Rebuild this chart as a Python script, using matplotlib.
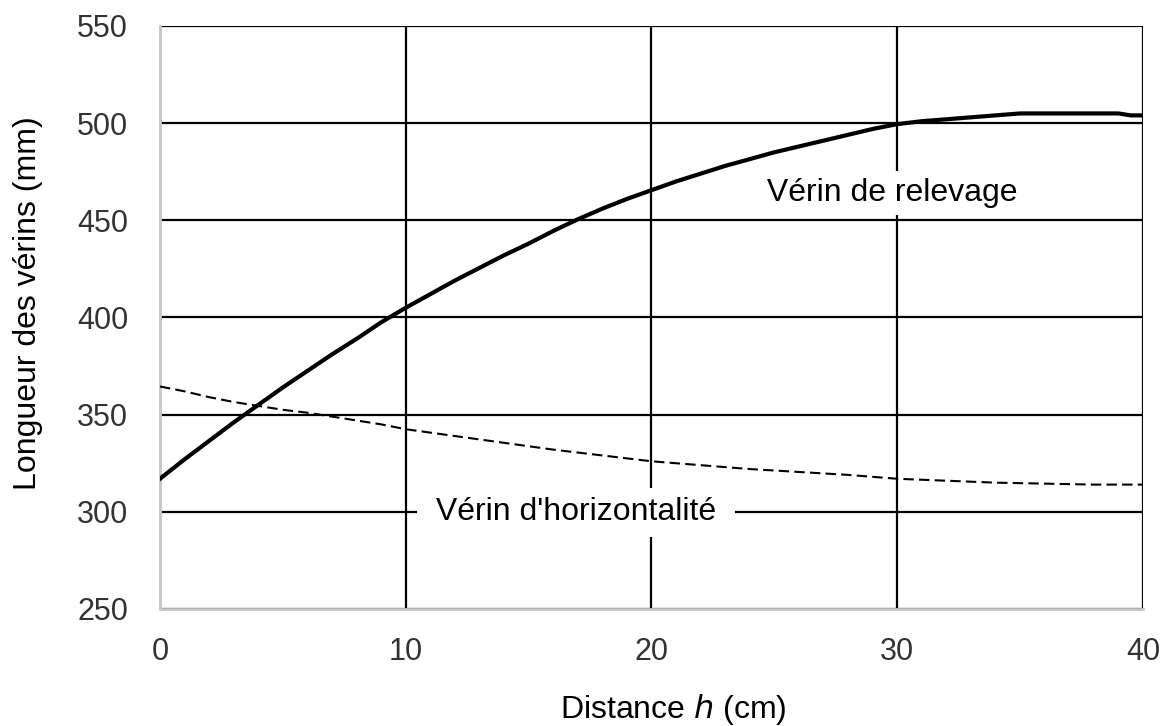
import matplotlib
matplotlib.use("Agg")
import matplotlib.pyplot as plt

plt.rcParams['font.family'] = ['Liberation Sans', 'DejaVu Sans']

# Data
h_releve = [0, 1, 2, 3, 4, 5, 6, 7, 8, 9, 10, 11, 12, 13, 14, 15, 16, 17, 18, 19, 20,
            21, 22, 23, 24, 25, 26, 27, 28, 29, 30, 31, 32, 33, 34, 35, 36, 37, 38, 39, 39.5, 40]
relevage = [317, 327, 336.5, 346, 355, 364, 372.5, 381, 389, 397.5, 405, 412, 419, 425.5, 432,
            438, 444.5, 450.5, 456, 461, 465.5, 470, 474, 478, 481.5, 485, 488, 491, 494, 497,
            499.5, 501, 502, 503, 504, 505, 505, 505, 505, 505, 504, 504]
h_horiz = [0, 1, 2, 3, 4, 5, 6, 7, 8, 9, 10, 12, 14, 16, 18, 20, 22, 24, 26, 28, 30, 32, 34, 36, 38, 40]
horiz = [364.5, 362, 359, 356.5, 354.5, 352.5, 351, 349, 347, 345, 342.5, 339, 335.5, 332,
         329, 326, 324, 322, 320.5, 319, 317, 316, 315, 314.5, 314, 314]

xticks = [0, 10, 20, 30, 40]
yticks = [250, 300, 350, 400, 450, 500, 550]

fig = plt.figure(figsize=(11.6, 7.26), dpi=100)
ax = fig.add_axes([0.1379, 0.1612, 0.8474, 0.8030])

ax.plot(h_releve, relevage, color='black', lw=3.0, zorder=4, solid_joinstyle='round')
ax.plot(h_horiz, horiz, color='black', lw=1.5, ls=(0, (5, 2.5)), zorder=3)

ax.set_xlim(0, 40)
ax.set_ylim(250, 550)
ax.set_xticks(xticks)
ax.set_yticks(yticks)
ax.grid(True, color='black', lw=1.6, zorder=1)
ax.set_axisbelow(True)
ax.tick_params(length=0, labelsize=22, labelcolor='#333333')
ax.tick_params(axis='x', pad=20)
ax.tick_params(axis='y', pad=23)

for s in ['top', 'right']:
    ax.spines[s].set_visible(False)
for s in ['left', 'bottom']:
    ax.spines[s].set_color('#c8c8c8')
    ax.spines[s].set_linewidth(2)

ax.set_xlabel('Distance $\\it{h}$ (cm)', fontsize=23)
ax.xaxis.set_label_coords(0.5219, -0.187)
ax.xaxis.label.set_va('baseline')
ax.set_ylabel('Longueur des vérins (mm)', fontsize=23)
ax.yaxis.set_label_coords(-0.119, 0.525)

ax.text(29.8, 464, ' Vérin de relevage ', fontsize=23, ha='center', va='center',
        bbox=dict(facecolor='white', edgecolor='none', pad=5), zorder=5)
ax.text(16.93, 299.7, " Vérin d'horizontalité ", fontsize=23, ha='center', va='center',
        bbox=dict(facecolor='white', edgecolor='none', pad=7), zorder=2)

fig.savefig('out.png', dpi=100)
